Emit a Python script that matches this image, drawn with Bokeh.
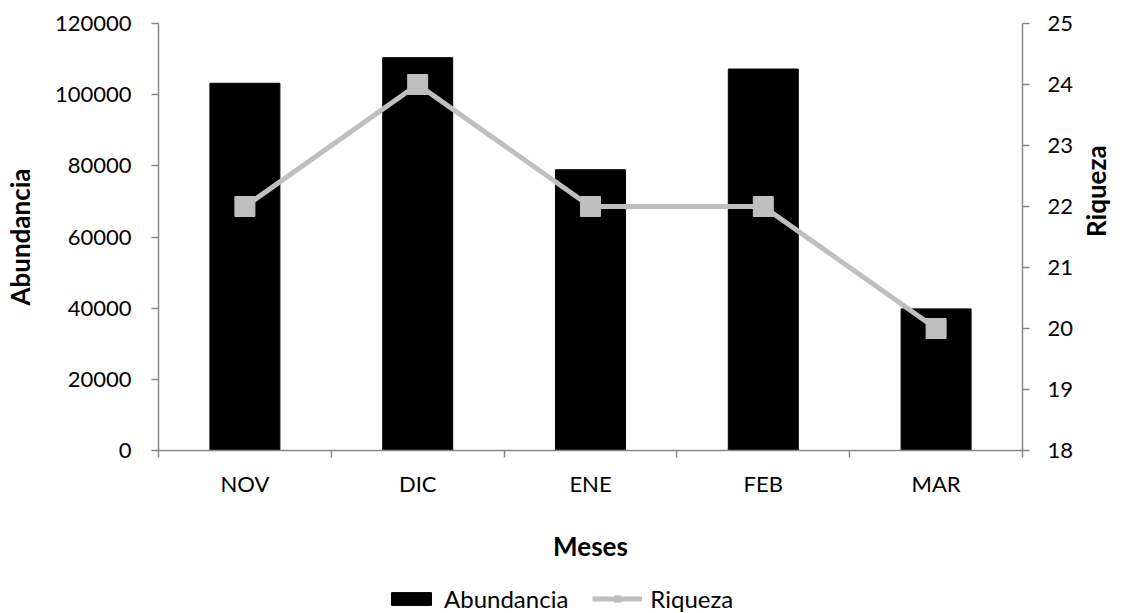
import math
from bokeh.plotting import figure
from bokeh.layouts import column
from bokeh.models import (Range1d, LinearAxis, FixedTicker, Legend, LegendItem,
                          NumeralTickFormatter, ColumnDataSource)
from bokeh.embed import file_html
from bokeh.resources import INLINE

categories = ["NOV", "DIC", "ENE", "FEB", "MAR"]
abundancia = [103200, 110400, 78900, 107200, 39800]
riqueza = [22, 24, 22, 22, 20]
left_ticks = [0, 20000, 40000, 60000, 80000, 100000, 120000]
right_ticks = [18, 19, 20, 21, 22, 23, 24, 25]

FONT = "Lato"
AXIS_COLOR = "#868686"
LINE_COLOR = "#BFBFBF"
W = 1131

xc = [i + 0.5 for i in range(len(categories))]
src = ColumnDataSource(dict(x=xc, ab=abundancia, ri=riqueza))


def add_series(fig):
    b = fig.vbar(x="x", top="ab", width=0.405, source=src, color="black")
    l = fig.line(x="x", y="ri", source=src, y_range_name="r", line_color=LINE_COLOR, line_width=5)
    s = fig.scatter(x="x", y="ri", source=src, y_range_name="r", marker="square", size=20,
                    fill_color=LINE_COLOR, line_color=LINE_COLOR)
    return b, l, s


p = figure(width=W, height=583, output_backend="svg", toolbar_location=None,
           x_range=Range1d(0, len(categories)), y_range=Range1d(left_ticks[0], left_ticks[-1]),
           min_border_left=158, min_border_right=109, min_border_top=23, min_border_bottom=133)
p.outline_line_color = None
p.xgrid.visible = False
p.ygrid.visible = False
p.extra_y_ranges = {"r": Range1d(right_ticks[0], right_ticks[-1])}
add_series(p)


def style(ax):
    ax.axis_line_color = AXIS_COLOR
    ax.axis_line_width = 1.5
    ax.major_tick_line_color = AXIS_COLOR
    ax.major_tick_line_width = 1.5
    ax.minor_tick_line_color = AXIS_COLOR
    ax.minor_tick_line_width = 1.5
    ax.major_tick_in = 0
    ax.minor_tick_in = 0
    ax.major_label_text_font = FONT
    ax.major_label_text_font_size = "22px"
    ax.major_label_text_color = "black"
    ax.axis_label_text_font = FONT
    ax.axis_label_text_font_size = "26px"
    ax.axis_label_text_font_style = "bold"
    ax.axis_label_text_color = "black"


xa = p.xaxis[0]
style(xa)
xa.ticker = FixedTicker(ticks=xc, minor_ticks=list(range(len(categories) + 1)))
xa.major_label_overrides = {x: c for x, c in zip(xc, categories)}
xa.major_tick_out = 0
xa.minor_tick_out = 7
xa.major_label_standoff = 12
xa.axis_label = "Meses"
xa.axis_label_standoff = 30

ya = p.yaxis[0]
style(ya)
ya.ticker = FixedTicker(ticks=left_ticks)
ya.formatter = NumeralTickFormatter(format="0")
ya.major_tick_out = 7
ya.minor_tick_out = 0
ya.major_label_standoff = 20
ya.axis_label = "Abundancia"
ya.axis_label_standoff = 16

ra = LinearAxis(y_range_name="r")
style(ra)
ra.ticker = FixedTicker(ticks=right_ticks)
ra.major_tick_out = 7
ra.minor_tick_out = 0
ra.major_label_standoff = 18
ra.axis_label = "Riqueza"
ra.axis_label_standoff = 20
ra.axis_label_orientation = math.pi / 2
ra.axis_label_text_baseline = "top"
p.add_layout(ra, "right")

# legend strip below the chart (its renderers lie outside its visible ranges)
lg = figure(width=W, height=30, output_backend="svg", toolbar_location=None,
            x_range=Range1d(10, 11), y_range=Range1d(200000, 210000),
            x_axis_location=None, y_axis_location=None,
            min_border_left=0, min_border_right=0, min_border_top=0, min_border_bottom=0)
lg.extra_y_ranges = {"r": Range1d(30, 31)}
lg.outline_line_color = None
lg.xgrid.visible = False
lg.ygrid.visible = False
lb, ll, ls = add_series(lg)

legend = Legend(items=[LegendItem(label="Abundancia", renderers=[lb]),
                       LegendItem(label="Riqueza", renderers=[ll, ls])],
                orientation="horizontal", location="center_left",
                label_text_font=FONT, label_text_font_size="24px", label_text_color="black",
                glyph_width=50, glyph_height=16, spacing=24, label_standoff=8,
                padding=2, margin=228, border_line_color=None, background_fill_alpha=0)
lg.add_layout(legend)

open("out.html", "w").write(file_html(column(p, lg), INLINE))
